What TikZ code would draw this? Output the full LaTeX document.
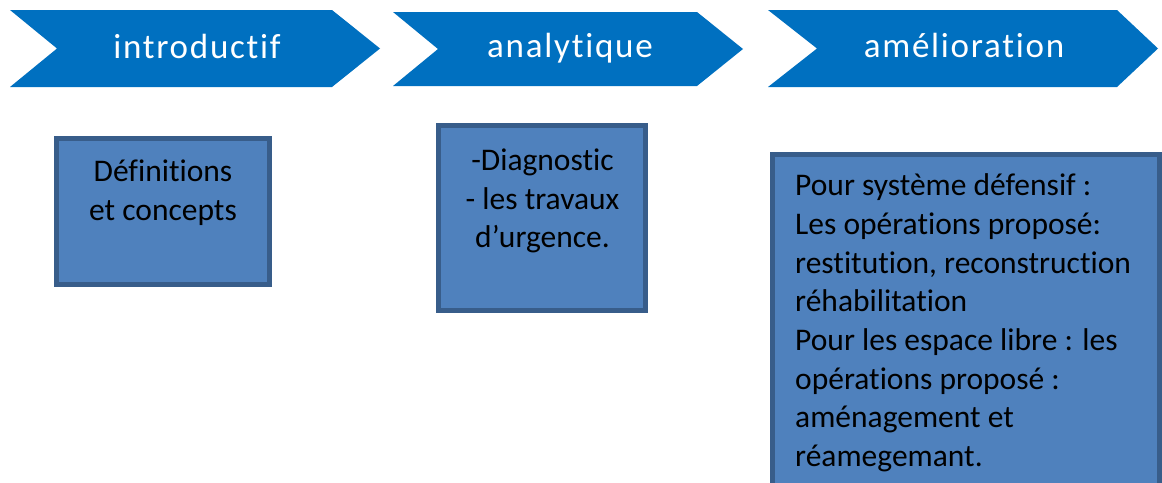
\documentclass[tikz,border=0pt]{standalone}
\usepackage{fontspec}
\setmainfont[Ligatures=NoCommon]{Carlito}
\newfontfamily\chevfont[LetterSpace=5,Ligatures=NoCommon]{Carlito}
\definecolor{chevblue}{HTML}{0070C0}
\definecolor{boxfill}{HTML}{4F81BD}
\definecolor{boxline}{HTML}{385D8A}
\tikzset{
  chevron/.style={fill=chevblue, draw=none},
  chevtext/.style={text=white, font=\chevfont\fontsize{35}{40}\selectfont, inner sep=0pt, anchor=base},
  infobox/.style={fill=boxfill, draw=boxline, line width=5pt},
  boxtext/.style={text=black, font=\fontsize{31.5}{38.7}\selectfont, inner sep=0pt},
}
\begin{document}
\begin{tikzpicture}[x=1pt,y=-1pt]
\useasboundingbox (0,0) rectangle (1162,482);
\fill[white] (0,0) rectangle (1162,482);
\clip (0,0) rectangle (1162,482);
% chevrons
\path[chevron] (10,10) -- (332,10) -- (380,48.5) -- (332,87) -- (10,87) -- (57,48.5) -- cycle;
\path[chevron] (393,12) -- (697,12) -- (743,49) -- (697,86) -- (393,86) -- (438,49) -- cycle;
\path[chevron] (768,10) -- (1117,10) -- (1158,48.5) -- (1117,87) -- (768,87) -- (817,48.5) -- cycle;
\node[chevtext] (t1) at (197,58) {introductif};
\node[chevtext] (t2) at (570,57.5) {analytique};
\node[chevtext] (t3) at (964,57.5) {amélioration};
% boxes
\path[infobox] (56.5,138.5) rectangle (269.5,284.5);
\node[boxtext, align=center] (b1) at (163,193) {Définitions\\et concepts};
\path[infobox] (438.5,125.5) rectangle (645.5,310.5);
\node[boxtext, align=center] (b2) at (542.5,201) {-Diagnostic\\- les travaux\\d’urgence.};
\path[infobox] (772.5,154.5) rectangle (1159.5,495);
\node[boxtext, align=left, anchor=west] (b3) at (795,323) {Pour système défensif :\\Les opérations proposé:\\restitution, reconstruction\\réhabilitation\\Pour les espace libre : les\\opérations proposé :\\aménagement et\\réamegemant.};
\end{tikzpicture}
\end{document}
